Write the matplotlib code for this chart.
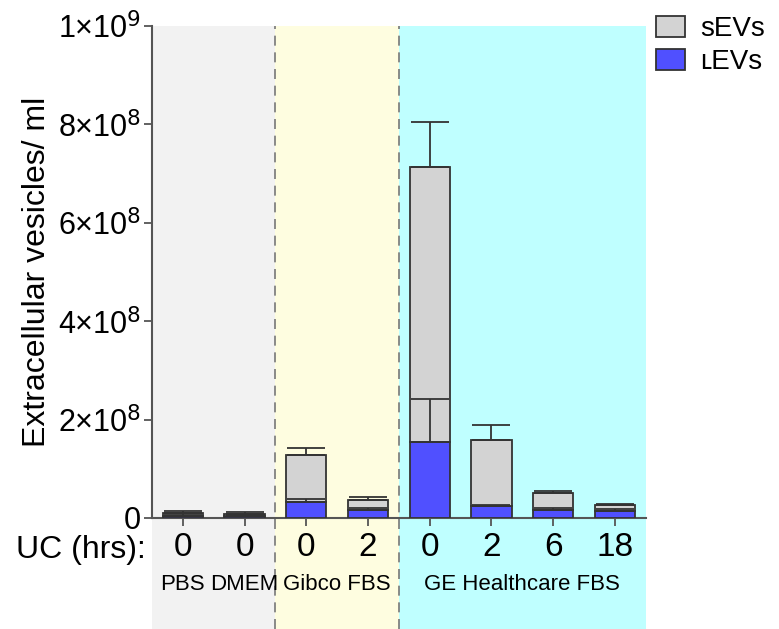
import matplotlib
matplotlib.use("Agg")
import matplotlib.pyplot as plt
import numpy as np
from matplotlib.patches import Patch
from matplotlib.ticker import FixedLocator

plt.rcParams['font.family'] = ['Liberation Sans', 'DejaVu Sans']

uc_hours = ['0', '0', '0', '2', '0', '2', '6', '18']
groups = ['PBS', 'DMEM', 'Gibco FBS', 'GE Healthcare FBS']
group_centers = [0, 1, 2.5, 5.5]
bands = [(-0.5, 1.5, '#f2f2f2'), (1.5, 3.5, '#fefde0'), (3.5, 7.5, '#bfffff')]

# values
lev = np.array([0.5e7, 0.35e7, 3.3e7, 1.6e7, 1.55e8, 2.5e7, 1.6e7, 1.5e7])
lev_err = np.array([0.3e7, 0.3e7, 0.5e7, 0.4e7, 0.87e8, 0.2e7, 0.4e7, 0.3e7])
total = np.array([1.1e7, 0.9e7, 1.28e8, 3.6e7, 7.13e8, 1.58e8, 5.0e7, 2.6e7])
total_err = np.array([0.4e7, 0.3e7, 1.5e7, 0.6e7, 0.91e8, 3.0e7, 0.5e7, 0.3e7])
sev = total - lev

x = np.arange(len(uc_hours))

fig = plt.figure(figsize=(7.79, 6.29), dpi=100)
ax = fig.add_axes([0.195, 0.1765, 0.634, 0.7822])

below = 111 / 492
for a, b, c in bands:
    ax.axvspan(a, b, ymin=-below, ymax=1, color=c, zorder=0, clip_on=False, lw=0)
for xv in [1.5, 3.5]:
    ax.plot([xv, xv], [-below, 1], transform=ax.get_xaxis_transform(), color='#777777',
            ls=(0, (6, 4)), lw=1.2, clip_on=False, zorder=1)

edge = '#333333'
ax.bar(x, lev, width=0.65, color='#5050ff', edgecolor=edge, lw=1.3, zorder=3)
ax.bar(x, sev, width=0.65, bottom=lev, color='#d3d3d3', edgecolor=edge, lw=1.3, zorder=3)
ax.errorbar(x, total, yerr=[np.zeros_like(total_err), total_err], fmt='none',
            ecolor=edge, elinewidth=1.3, capsize=14, capthick=1.3, zorder=4)
ax.errorbar(x, lev, yerr=[np.zeros_like(lev_err), lev_err], fmt='none',
            ecolor=edge, elinewidth=1.3, capsize=14, capthick=1.3, zorder=4)

ax.set_xlim(-0.5, 7.5)
ax.set_ylim(0, 1e9)
ax.yaxis.set_major_locator(FixedLocator([0, 2e8, 4e8, 6e8, 8e8, 1e9]))
ax.set_yticklabels(['0', r'2×10$^8$', r'4×10$^8$', r'6×10$^8$', r'8×10$^8$', r'1×10$^9$'],
                   fontsize=22)
ax.set_xticks(x)
ax.set_xticklabels(uc_hours, fontsize=24)
ax.tick_params(axis='both', colors='#555555', labelcolor='black', width=1.3, length=6)
ax.tick_params(axis='x', pad=4)
ax.tick_params(axis='y', pad=2)
for s in ['top', 'right']:
    ax.spines[s].set_visible(False)
for s in ['left', 'bottom']:
    ax.spines[s].set_color('#555555')
    ax.spines[s].set_linewidth(1.5)
ax.set_facecolor('none')
ax.set_ylabel('Extracellular vesicles/ ml', fontsize=23, labelpad=4)

ax.text(-0.012, -0.066, 'UC (hrs):', transform=ax.transAxes, ha='right',
        va='center', fontsize=23)
for g, c in zip(groups, group_centers):
    ax.text(c, -0.135, g, transform=ax.get_xaxis_transform(), ha='center', va='center',
            fontsize=16)

handles = [Patch(facecolor='#d3d3d3', edgecolor=edge, lw=1.3, label='sEVs'),
           Patch(facecolor='#5050ff', edgecolor=edge, lw=1.3, label='ʟEVs')]
fig.legend(handles=handles, loc='upper left', bbox_to_anchor=(0.842, 0.975), frameon=False,
           fontsize=20, handlelength=1.05, handleheight=0.8, handletextpad=0.55,
           labelspacing=0.25, borderaxespad=0, borderpad=0)

fig.savefig('out.png', dpi=100)
